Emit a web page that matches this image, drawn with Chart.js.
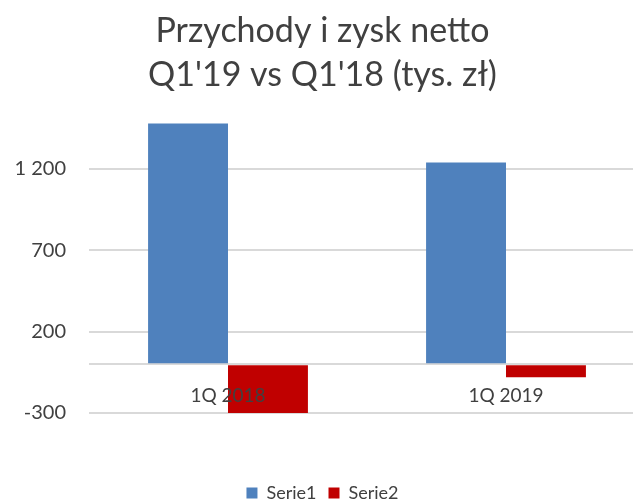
<!DOCTYPE html>
<html>
<head>
<meta charset="utf-8">
<script src="https://cdn.jsdelivr.net/npm/chart.js@4"></script>
<style>
  html, body { margin: 0; padding: 0; background: #fff; overflow: hidden; }
  #wrap { width: 645px; height: 512px; }
</style>
</head>
<body>
<div id="wrap"><canvas id="revenueChart"></canvas></div>
<script>
const categories = ["1Q 2018", "1Q 2019"];
const serie1 = [1480, 1240];
const serie2 = [-300, -80];
const yTicks = [-300, 0, 200, 700, 1200];

const textColor = "#404040";
const fontFamily = "Lato, 'Open Sans', sans-serif";

// grupowanie tysięcy spacją, jak w Excelu
function fmt(v) {
    return String(v).replace(/\B(?=(\d{3})+(?!\d))/g, " ");
}

const data = {
    labels: categories,
    datasets: [
        {
            label: "Serie1",
            data: serie1,
            backgroundColor: "#4F81BD",
            borderWidth: 0,
        },
        {
            label: "Serie2",
            data: serie2,
            backgroundColor: "#C00000",
            borderWidth: 0,
        },
    ],
};

const config = {
    type: "bar",
    data: data,
    options: {
        responsive: true,
        maintainAspectRatio: false,
        animation: false,
        layout: { padding: { left: 0, right: 0, top: 0, bottom: 0 } },
        datasets: {
            bar: { categoryPercentage: 0.575, barPercentage: 1.0 },
        },
        plugins: {
            title: {
                display: true,
                text: ["Przychody i zysk netto", "Q1'19 vs Q1'18 (tys. zł)"],
                color: textColor,
                font: { family: fontFamily, size: 34, weight: "normal", lineHeight: 1.3 },
                padding: { top: 9, bottom: 13 },
            },
            legend: {
                display: true,
                position: "bottom",
                title: { display: true, text: " ", padding: { top: 47, bottom: 0 }, font: { size: 10 } },
                labels: {
                    color: textColor,
                    boxWidth: 11,
                    boxHeight: 11,
                    padding: 12,
                    font: { family: fontFamily, size: 18 },
                },
            },
            tooltip: { enabled: false },
        },
        scales: {
            x: {
                position: { y: 0 },
                grid: { display: false, drawTicks: false },
                border: { display: false },
                ticks: {
                    z: 1,
                    color: textColor,
                    padding: 20,
                    font: { family: fontFamily, size: 19 },
                },
            },
            y: {
                min: -300,
                max: 1560,
                afterBuildTicks: (axis) => {
                    axis.ticks = yTicks.map(v => ({ value: v }));
                },
                afterFit: (axis) => {
                    axis.width = 89;
                },
                grid: { color: "#D9D9D9", lineWidth: 2, drawTicks: false },
                border: { display: false },
                ticks: {
                    color: textColor,
                    padding: 23,
                    font: { family: fontFamily, size: 20 },
                    callback: (v) => v === 0 ? "" : fmt(v),
                },
            },
        },
    },
};

const ctx = document.getElementById("revenueChart").getContext("2d");
const revenueChart = new Chart(ctx, config);
</script>
</body>
</html>
